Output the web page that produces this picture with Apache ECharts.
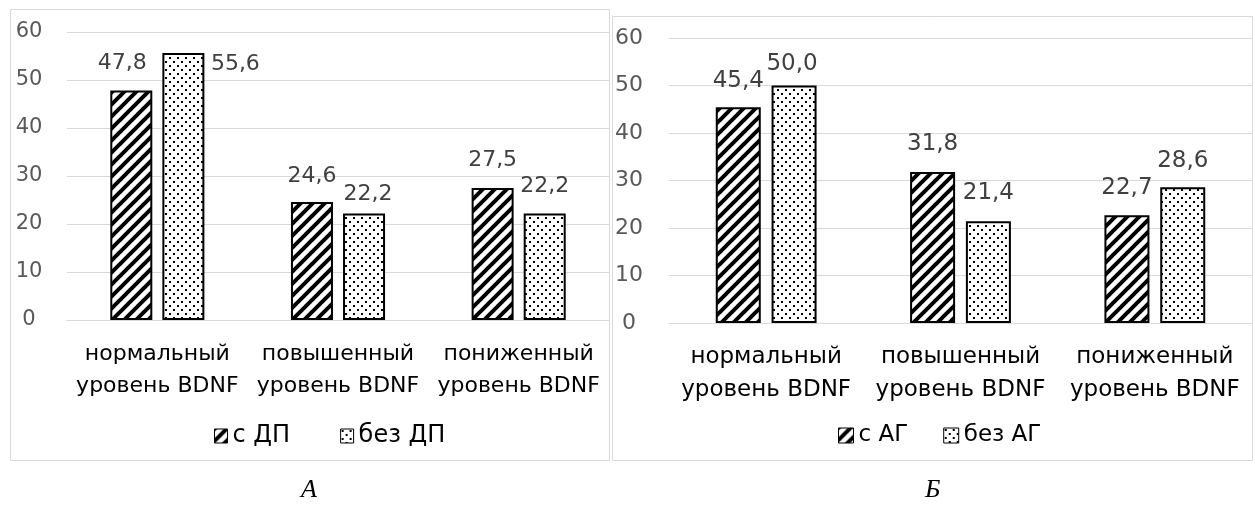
<!DOCTYPE html>
<html>
<head>
<meta charset="utf-8">
<script src="https://cdn.jsdelivr.net/npm/echarts@6/dist/echarts.min.js"></script>
<style>
html,body{margin:0;padding:0;background:#fff;}
#chart{width:1255px;height:513px;}
</style>
</head>
<body>
<div id="chart"></div>
<script>
// ---- data ----
const categories = ['нормальный\nуровень BDNF', 'повышенный\nуровень BDNF', 'пониженный\nуровень BDNF'];
const namesA = ['с ДП', 'без ДП'];
const namesB = ['с АГ', 'без АГ'];
const valuesA1 = [47.8, 24.6, 27.5];
const valuesA2 = [55.6, 22.2, 22.2];
const valuesB1 = [45.4, 31.8, 22.7];
const valuesB2 = [50.0, 21.4, 28.6];
const yMin = 0, yMax = 60, yStep = 10;
const panelTitles = ['А', 'Б'];

// label offsets (styling only)
const offA1 = [[-9, -11], [0, -10], [0, -12]];
const offA2 = [[52, 27], [4, -3], [0, -11]];
const offB1 = [[0, -10], [0, -11], [0, -11]];
const offB2 = [[-2, -5], [0, -12], [0, -10]];

function hatchPattern() {
  const c = document.createElement('canvas');
  c.width = 12; c.height = 12;
  const g = c.getContext('2d');
  g.fillStyle = '#fff'; g.fillRect(0, 0, 12, 12);
  g.strokeStyle = '#000'; g.lineWidth = 4; g.lineCap = 'square';
  [[-2, 14, 14, -2], [-2, 2, 2, -2], [10, 14, 14, 10]].forEach(l => {
    g.beginPath(); g.moveTo(l[0], l[1]); g.lineTo(l[2], l[3]); g.stroke();
  });
  return c;
}
function dotPattern() {
  const c = document.createElement('canvas');
  c.width = 8; c.height = 8;
  const g = c.getContext('2d');
  g.fillStyle = '#fff'; g.fillRect(0, 0, 8, 8);
  g.fillStyle = '#000';
  g.fillRect(1, 1, 2, 2);
  g.fillRect(5, 5, 2, 2);
  return c;
}
const hatch = { image: hatchPattern(), repeat: 'repeat' };
const dots = { image: dotPattern(), repeat: 'repeat' };

const FONT = 'DejaVu Sans';

function makeData(vals, offs) {
  return vals.map((v, i) => ({
    value: v,
    label: { offset: offs[i] }
  }));
}
function barSeries(name, vals, offs, idx, color, fs) {
  return {
    name: name, type: 'bar',
    xAxisIndex: idx, yAxisIndex: idx,
    barWidth: idx === 0 ? 42 : 45,
    barGap: '24%',
    itemStyle: { color: color, borderColor: '#000', borderWidth: 2 },
    label: {
      show: true, position: 'top', distance: 5,
      fontFamily: FONT, fontSize: fs, color: '#404040',
      formatter: p => p.value.toFixed(1).replace('.', ',')
    },
    data: makeData(vals, offs)
  };
}

function xAxis(idx, fs, lh) {
  return {
    type: 'category', gridIndex: idx, data: categories,
    axisLine: { lineStyle: { color: '#d9d9d9', width: 1 } },
    axisTick: { show: false },
    axisLabel: { fontFamily: FONT, fontSize: fs, color: '#000', lineHeight: lh, margin: 18, interval: 0 }
  };
}
function yAxis(idx, fs, margin) {
  return {
    type: 'value', gridIndex: idx, min: yMin, max: yMax, interval: yStep,
    axisLine: { show: false }, axisTick: { show: false },
    splitLine: { lineStyle: { color: '#d9d9d9', width: 1 } },
    axisLabel: { fontFamily: FONT, fontSize: fs, color: '#595959', margin: margin, align: 'center' }
  };
}

const chart = echarts.init(document.getElementById('chart'), null, { renderer: 'canvas' });
chart.setOption({
  animation: false,
  backgroundColor: '#fff',
  grid: [
    { left: 67, top: 32, width: 542, height: 288 },
    { left: 669, top: 38, width: 583, height: 285 }
  ],
  xAxis: [xAxis(0, 22, 32), xAxis(1, 23, 33)],
  yAxis: [yAxis(0, 21, 38), yAxis(1, 22, 40)],
  legend: [
    {
      data: namesA, left: 209, top: 419, itemWidth: 13, itemHeight: 14, itemGap: 50,
      icon: 'rect',
      itemStyle: { borderColor: '#000', borderWidth: 1 },
      textStyle: { fontFamily: FONT, fontSize: 24, color: '#000' }
    },
    {
      data: namesB, left: 833, top: 419, itemWidth: 15, itemHeight: 15, itemGap: 35,
      icon: 'rect',
      itemStyle: { borderColor: '#000', borderWidth: 1 },
      textStyle: { fontFamily: FONT, fontSize: 23, color: '#000' }
    }
  ],
  series: [
    barSeries(namesA[0], valuesA1, offA1, 0, hatch, 22),
    barSeries(namesA[1], valuesA2, offA2, 0, dots, 22),
    barSeries(namesB[0], valuesB1, offB1, 1, hatch, 23),
    barSeries(namesB[1], valuesB2, offB2, 1, dots, 23)
  ],
  graphic: [
    { type: 'rect', z: -1, shape: { x: 10.5, y: 9.5, width: 599, height: 451 },
      style: { fill: 'none', stroke: '#d9d9d9', lineWidth: 1 } },
    { type: 'rect', z: -1, shape: { x: 612.5, y: 16.5, width: 640, height: 444 },
      style: { fill: 'none', stroke: '#d9d9d9', lineWidth: 1 } },
    { type: 'text', left: 301, top: 477,
      style: { text: panelTitles[0], font: 'italic 26px "Liberation Serif"', fill: '#000' } },
    { type: 'text', left: 925, top: 477,
      style: { text: panelTitles[1], font: 'italic 26px "Liberation Serif"', fill: '#000' } }
  ]
});
</script>
</body>
</html>
